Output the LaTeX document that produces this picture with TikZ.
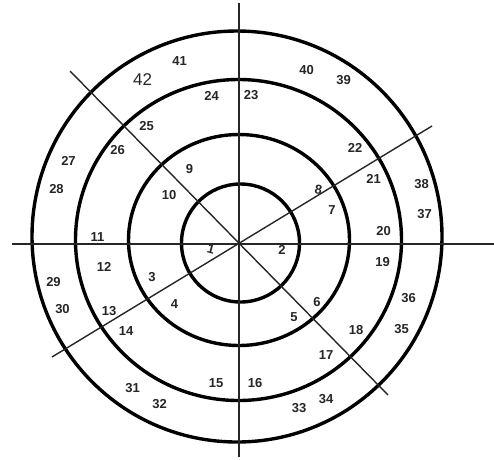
\documentclass[tikz,border=0pt]{standalone}
\usepackage{fontspec}
\setmainfont{Liberation Sans}
\begin{document}
\begin{tikzpicture}[x=1pt,y=-1pt,
  ring/.style={line width=3.4pt, draw=black},
  axis/.style={line width=1.4pt, draw=black!85},
  lab/.style={font=\fontsize{13}{13}\selectfont\bfseries, inner sep=0pt, text=black!85},
  biglab/.style={font=\fontsize{17}{17}\selectfont, inner sep=0pt, text=black!85}]
\useasboundingbox[fill=white] (0,0) rectangle (494,459);
% centres
\coordinate (O) at (239,244);
\coordinate (c1) at (240.5,243);
\coordinate (c2) at (239,240);
\coordinate (c3) at (238.5,240);
\coordinate (c4) at (237,236.5);
% rings
\draw[ring] (c1) ellipse [x radius=59, y radius=59];
\draw[ring] (c2) ellipse [x radius=110.5, y radius=105.5];
\draw[ring] (c3) ellipse [x radius=163, y radius=160.5];
\draw[ring] (c4) ellipse [x radius=205, y radius=205.5];
% line end points
\coordinate (hL) at (12,244);
\coordinate (hR) at (494,244);
\coordinate (vT) at (239,3);
\coordinate (vB) at (239,457);
\coordinate (dNW) at (70,71);
\coordinate (dSE) at (388,395);
\coordinate (dSW) at (52,357);
\coordinate (dNE) at (432,126);
\draw[axis] (hL) -- (hR);
\draw[axis] (vT) -- (vB);
\draw[axis] (dNW) -- (dSE);
\draw[axis] (dSW) -- (dNE);
% labels
\node[lab, rotate=-15] (n1) at (211,249) {1};
\node[lab] (n2) at (282,250) {2};
\node[lab] (n3) at (152,277) {3};
\node[lab] (n4) at (174.5,304) {4};
\node[lab] (n5) at (294,317) {5};
\node[lab] (n6) at (317,302) {6};
\node[lab] (n7) at (332,210) {7};
\node[lab, rotate=-10] (n8) at (318.5,189.5) {8};
\node[lab] (n9) at (189.5,169.5) {9};
\node[lab] (n10) at (169,195) {10};
\node[lab] (n11) at (97.5,237) {11};
\node[lab] (n12) at (104,266.5) {12};
\node[lab] (n13) at (109,311) {13};
\node[lab] (n14) at (126,331.5) {14};
\node[lab] (n15) at (216,383.5) {15};
\node[lab] (n16) at (255,383.5) {16};
\node[lab] (n17) at (326,355) {17};
\node[lab] (n18) at (356,330) {18};
\node[lab] (n19) at (382.5,262.5) {19};
\node[lab] (n20) at (383.5,231.5) {20};
\node[lab] (n21) at (373.5,179) {21};
\node[lab] (n22) at (355,147.5) {22};
\node[lab] (n23) at (251,95) {23};
\node[lab] (n24) at (211.5,95.5) {24};
\node[lab] (n25) at (146.5,126) {25};
\node[lab] (n26) at (117.5,150.5) {26};
\node[lab] (n27) at (68.5,160.5) {27};
\node[lab] (n28) at (56.5,189.5) {28};
\node[lab] (n29) at (53.5,282.5) {29};
\node[lab] (n30) at (62.5,309) {30};
\node[lab] (n31) at (132.5,388.5) {31};
\node[lab] (n32) at (159.5,404.5) {32};
\node[lab] (n33) at (299,408.5) {33};
\node[lab] (n34) at (326,399.5) {34};
\node[lab] (n35) at (401.5,329.5) {35};
\node[lab] (n36) at (408.5,298.5) {36};
\node[lab] (n37) at (424.5,214) {37};
\node[lab] (n38) at (421.5,184.5) {38};
\node[lab] (n39) at (343.5,80) {39};
\node[lab] (n40) at (306.5,70.5) {40};
\node[lab] (n41) at (179.5,61) {41};
\node[biglab] (n42) at (142.5,80) {42};
\end{tikzpicture}
\end{document}
